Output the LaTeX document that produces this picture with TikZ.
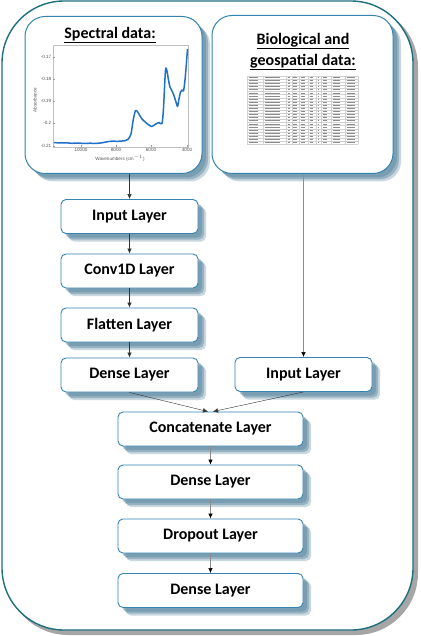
\documentclass[tikz,border=0pt]{standalone}
\usepackage{fontspec}
\setmainfont{Carlito}
\newfontfamily\axisfont{Liberation Sans}
\usetikzlibrary{shadows,arrows.meta}
\definecolor{framec}{HTML}{1D6F80}
\definecolor{boxline}{HTML}{3584B0}
\definecolor{shc}{HTML}{4E7D98}
\definecolor{curvec}{HTML}{1F70C8}
\definecolor{tickc}{HTML}{555555}
\begin{document}
\begin{tikzpicture}[x=1pt,y=-1pt,
  softshadow/.style={
    general shadow={shadow xshift=4pt,shadow yshift=-4pt,fill=shc,opacity=0.4},
    general shadow={shadow xshift=6pt,shadow yshift=-6pt,fill=shc,opacity=0.4},
    general shadow={shadow xshift=8pt,shadow yshift=-8pt,fill=shc,opacity=0.3}},
  layer/.style={softshadow,draw=boxline,line width=0.9pt,fill=white,rounded corners=5pt,
    minimum height=34pt,inner sep=0pt,font=\bfseries\fontsize{16}{18}\selectfont},
  bigbox/.style={softshadow,draw=boxline,line width=1pt,fill=white,rounded corners=20pt,inner sep=0pt},
  arr/.style={-{Latex[length=5pt,width=4.5pt]},line width=0.6pt,black!80},
  garr/.style={-{Latex[length=5pt,width=4.5pt,fill=black,color=black]},line width=0.6pt,black!45},
  ticklbl/.style={font=\axisfont\fontsize{4.6}{5}\selectfont,text=tickc,inner sep=0.5pt}
]
\useasboundingbox (0,0) rectangle (420,636);
% outer frame
\fill[black!35,rounded corners=62pt] (6,5) rectangle (418,635);
\draw[framec,line width=1.4pt,fill=white,rounded corners=62pt] (2,1) rectangle (413,630);

% big boxes
\node[bigbox,minimum width=177pt,minimum height=157pt] (spec) at (113.5,95) {};
\node[bigbox,minimum width=181pt,minimum height=158pt] (bio) at (302.5,94.5) {};

% spectral title
\node[font=\bfseries\fontsize{16}{18}\selectfont,inner sep=0pt] (spt) at (110,35) {\underline{Spectral data:}};
% chart
\draw[black!25,line width=0.4pt] (53,45) rectangle (188,147);
\foreach \y/\l in {57/-0.17,79/-0.18,101/-0.19,123/-0.2,146/-0.21}{
  \draw[black!40,line width=0.3pt] (53,\y) -- (55,\y);
  \node[ticklbl,anchor=east] at (52,\y) {\l};
}
\foreach \x/\l in {81/10000,116/8000,151/6000,187/4000}{
  \draw[black!40,line width=0.3pt] (\x,147) -- (\x,145);
  \node[ticklbl,anchor=north] at (\x,148) {\l};
}
\node[ticklbl] at (120,158.5) {Wavenumbers (cm$^{-1}$)};
\node[ticklbl,rotate=90] at (35,100) {Absorbance};
\draw[curvec,line width=1.5pt,line join=round] plot[smooth,tension=0.45] coordinates {
(54,142.5) (60,143) (66,142.8) (72,143.3) (78,143) (84,143.5) (90,143.2) (96,143.4)
(102,142.8) (107,141.8) (112,141.2) (118,141.3) (124,140.8) (128,139.3) (131,134)
(133,121) (135.5,110.5) (138,112.5) (142,119) (147,123.5) (151.5,126.5) (155,124.5)
(159,122.5) (162,123.5) (163.5,108) (165.5,70) (167,71) (168.5,80) (170,87) (173,93)
(176,102) (177.5,106.5) (179,99) (180.5,92) (182,90) (183.5,91) (185,80) (186.5,62) (187.5,49)};

% bio title
\node[font=\bfseries\fontsize{16}{21}\selectfont,align=center,inner sep=0pt] (bit) at (303,51.5)
  {\underline{Biological and}\\\underline{geospatial data:}};
% tiny table
\foreach \i in {0,...,22}{
  \draw[black!18,line width=0.25pt] (247,76+3.1*\i) -- (358,76+3.1*\i);
}
\foreach \x in {247,263,286,292,299,308,316,321,331,345,358}{
  \draw[black!18,line width=0.25pt] (\x,76) -- (\x,144.2);
}
\foreach \i in {0,...,21}{
  \pgfmathsetmacro{\yy}{77.55+3.1*\i}
  \foreach \a/\b in {248.5/258,264.5/280,287.5/289.5,293/297,300.5/305,309.5/313,317.5/319,323/327,332.5/340,346.5/355}{
    \draw[black!45,line width=0.9pt] (\a,\yy) -- (\b,\yy);
  }
}

% layers
\node[layer,minimum width=137pt] (in1) at (129.5,216.5) {Input Layer};
\node[layer,minimum width=137pt] (conv) at (129.5,271) {Conv1D Layer};
\node[layer,minimum width=137pt] (flat) at (129.5,325) {Flatten Layer};
\node[layer,minimum width=137pt] (den1) at (129.5,375) {Dense Layer};
\node[layer,minimum width=137pt] (in2) at (303.5,374.5) {Input Layer};
\node[layer,minimum width=185pt] (cat) at (210.5,429) {Concatenate Layer};
\node[layer,minimum width=185pt] (den2) at (210.5,482) {Dense Layer};
\node[layer,minimum width=185pt] (drop) at (210.5,536) {Dropout Layer};
\node[layer,minimum width=185pt] (den3) at (210.5,590.5) {Dense Layer};

% connectors
\draw[arr] (in1.north |- spec.south) -- (in1.north);
\draw[arr] (in1) -- (conv);
\draw[arr] (conv) -- (flat);
\draw[arr] (flat) -- (den1);
\draw[garr] (in2.north |- bio.south) -- (in2.north);
\draw[arr,line width=0.4pt] (den1.south) -- ([xshift=-2.5pt]cat.north);
\draw[arr,line width=0.4pt] (in2.south) -- ([xshift=2.5pt]cat.north);
\draw[garr] (cat) -- (den2);
\draw[garr] (den2) -- (drop);
\draw[garr] (drop) -- (den3);
\end{tikzpicture}
\end{document}
